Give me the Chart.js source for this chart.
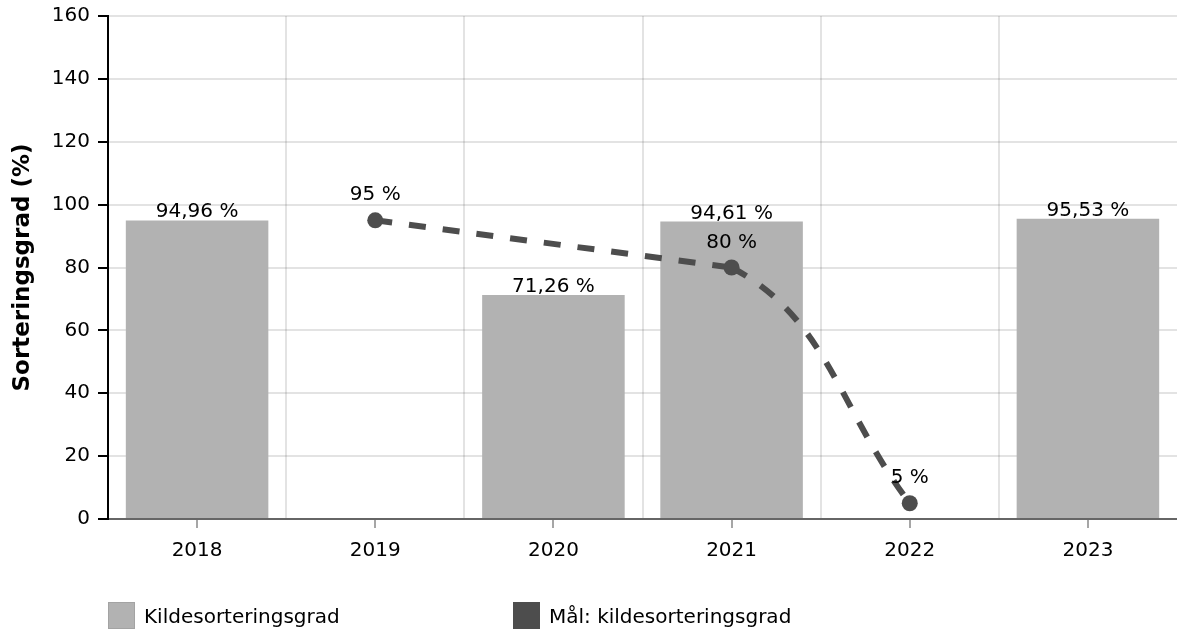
<!DOCTYPE html>
<html>
<head>
<meta charset="utf-8">
<script src="https://cdn.jsdelivr.net/npm/chart.js@4.4.1/dist/chart.umd.min.js"></script>
<style>
  html, body { margin: 0; padding: 0; background: #fff; overflow: hidden; }
  #wrap { position: relative; width: 1177px; height: 630px; }
  #chart { display: block; }
  .legend-item { position: absolute; top: 602px; height: 27px; display: flex; align-items: center;
    font-family: "DejaVu Sans", Verdana, sans-serif; font-size: 20px; color: #000; }
  .legend-box { width: 27px; height: 27px; box-sizing: border-box; margin-right: 9px; }
</style>
</head>
<body>
<div id="wrap">
  <canvas id="chart" width="1177" height="630"></canvas>
  <div class="legend-item" style="left:108px"><span class="legend-box" style="background:#b2b2b2;border:1px solid #a3a3a3"></span><span id="lg0"></span></div>
  <div class="legend-item" style="left:513px"><span class="legend-box" style="background:#4d4d4d"></span><span id="lg1"></span></div>
</div>
<script>
// data
const years = ["2018", "2019", "2020", "2021", "2022", "2023"];
const sortingRate = [94.96, null, 71.26, 94.61, null, 95.53];
const sortingTarget = [null, 95, null, 80, 5, null];
const yTicks = [0, 20, 40, 60, 80, 100, 120, 140, 160];

const barLabel = "Kildesorteringsgrad";
const lineLabel = "Mål: kildesorteringsgrad";
const yTitle = "Sorteringsgrad (%)";

const FONT = '"DejaVu Sans", Verdana, sans-serif';
const BAR_COLOR = "#b2b2b2";
const LINE_COLOR = "#4d4d4d";
const GRID_COLOR = "rgba(0, 0, 0, 0.11)";
const DASH = [17, 17];

document.getElementById("lg0").textContent = barLabel;
document.getElementById("lg1").textContent = lineLabel;

const fmt = (v) => String(v).replace(".", ",") + " %";

// segments that jump over a missing year are drawn straight, the rest smooth
const bridges = (ctx) => ctx.p0.skip || ctx.p1.skip;

// value labels above bars and points
const valueLabels = {
  id: "valueLabels",
  afterDraw(chart) {
    const c = chart.ctx;
    c.save();
    c.font = "20px " + FONT;
    c.fillStyle = "#000";
    c.textAlign = "center";
    c.textBaseline = "alphabetic";
    chart.data.datasets.forEach((ds, di) => {
      if (ds.noLabels) return;
      const meta = chart.getDatasetMeta(di);
      meta.data.forEach((el, i) => {
        const v = ds.data[i];
        if (v == null) return;
        const off = ds.type === "bar" ? 3 : 20;
        c.fillText(fmt(v), el.x, el.y - off);
      });
    });
    c.restore();
  }
};

// short tick marks under the x axis at the category centres
const xTickMarks = {
  id: "xTickMarks",
  afterDraw(chart) {
    const x = chart.scales.x;
    const c = chart.ctx;
    c.save();
    c.strokeStyle = "#a6a6a6";
    c.lineWidth = 2;
    years.forEach((_, i) => {
      const px = Math.round(x.getPixelForValue(i));
      c.beginPath();
      c.moveTo(px, x.top + 1);
      c.lineTo(px, x.top + 9);
      c.stroke();
    });
    c.restore();
  }
};

new Chart(document.getElementById("chart"), {
  data: {
    labels: years,
    datasets: [
      {
        type: "line",
        label: lineLabel,
        data: sortingTarget,
        order: 0,
        borderColor: LINE_COLOR,
        backgroundColor: LINE_COLOR,
        borderWidth: 6,
        borderDash: DASH,
        borderCapStyle: "butt",
        tension: 0.4,
        spanGaps: true,
        segment: { borderColor: (ctx) => bridges(ctx) ? "transparent" : LINE_COLOR },
        pointRadius: 8,
        pointBorderWidth: 0,
        pointBackgroundColor: LINE_COLOR
      },
      {
        type: "line",
        label: lineLabel,
        data: sortingTarget,
        noLabels: true,
        order: 0,
        borderColor: LINE_COLOR,
        borderWidth: 6,
        borderDash: DASH,
        borderCapStyle: "butt",
        tension: 0,
        spanGaps: true,
        segment: { borderColor: (ctx) => bridges(ctx) ? LINE_COLOR : "transparent" },
        pointRadius: 0
      },
      {
        type: "bar",
        label: barLabel,
        data: sortingRate,
        order: 1,
        backgroundColor: BAR_COLOR,
        barPercentage: 1,
        categoryPercentage: 0.8
      }
    ]
  },
  options: {
    responsive: false,
    animation: false,
    layout: { autoPadding: false, padding: { top: 16, right: 0, bottom: 0, left: 0 } },
    plugins: {
      legend: { display: false },
      tooltip: { enabled: false }
    },
    scales: {
      x: {
        z: 1,
        afterFit: (s) => { s.height = 111; s.paddingRight = 0; s.paddingLeft = 0; },
        grid: {
          offset: true,
          drawTicks: false,
          color: (ctx) => ctx.type === "tick" ? GRID_COLOR : "transparent",
          lineWidth: 2
        },
        border: { color: "#666", width: 2 },
        ticks: {
          padding: 20,
          color: "#000",
          font: { family: FONT, size: 20 }
        }
      },
      y: {
        z: 1,
        min: 0,
        max: 160,
        afterFit: (s) => { s.width = 108; s.paddingTop = 0; s.paddingBottom = 0; },
        afterBuildTicks: (s) => { s.ticks = yTicks.map(v => ({ value: v })); },
        grid: {
          color: GRID_COLOR,
          lineWidth: 2,
          tickLength: 10,
          tickColor: "#000",
          tickWidth: 2
        },
        border: { color: "#000", width: 2 },
        ticks: {
          padding: 8,
          color: "#000",
          font: { family: FONT, size: 20 }
        },
        title: {
          display: true,
          text: yTitle,
          color: "#000",
          padding: { top: 9, bottom: 0 },
          font: { family: FONT, size: 23, weight: "bold" }
        }
      }
    }
  },
  plugins: [valueLabels, xTickMarks]
});
</script>
</body>
</html>
